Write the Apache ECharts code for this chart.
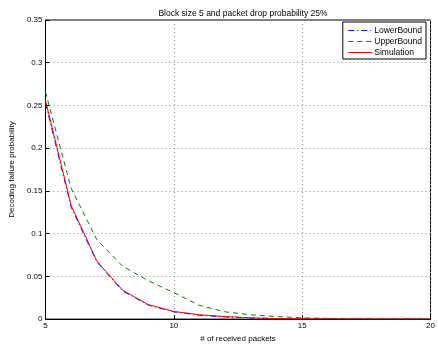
<!DOCTYPE html>
<html><head><meta charset="utf-8">
<script src="https://cdn.jsdelivr.net/npm/echarts@6/dist/echarts.min.js"></script>
<style>html,body{margin:0;padding:0;background:#fff}#c{width:438px;height:348px}</style>
</head><body><div id="c"></div>
<script>
const packets = [5,6,7,8,9,10,11,12,13,14,15,16,17,18,19,20];
const lowerBound = [0.253,0.131,0.067,0.033,0.0165,0.0085,0.0045,0.0025,0.0013,0.0006,0.0003,0.00015,0.00008,0.00004,0.00002,0.00001];
const upperBound = [0.266,0.153,0.093,0.062,0.045,0.031,0.016,0.0085,0.005,0.003,0.0015,0.0008,0.0004,0.0002,0.0001,0.00005];
const simulation = [0.256,0.133,0.068,0.034,0.017,0.009,0.005,0.003,0.0015,0.0007,0.0003,0.00015,0.00008,0.00004,0.00002,0.00001];
const xTicks = [5,10,15,20];
const yTicks = [0,0.05,0.1,0.15,0.2,0.25,0.3,0.35];

const font = 'Liberation Sans';
const chart = echarts.init(document.getElementById('c'));
const pair = a => packets.map((x,i)=>[x,a[i]]);
chart.setOption({
  animation:false,
  title:{text:'Block size 5 and packet drop probability 25%',left:238,top:4,textAlign:'center',
    textStyle:{fontFamily:font,fontSize:8.5,fontWeight:'normal',color:'#000'}},
  grid:{left:44,right:7,top:20,bottom:24,show:true,borderColor:'#000',borderWidth:1,backgroundColor:'#fff'},
  legend:{orient:'vertical',right:12,top:22,itemWidth:24,itemHeight:6,itemGap:2,padding:[4,4,2,5],
    borderColor:'#000',borderWidth:1,backgroundColor:'#fff',borderRadius:0,
    itemStyle:{opacity:0},lineStyle:{width:1},
    textStyle:{fontFamily:font,fontSize:8.5,color:'#000',padding:[0,0,0,-3]},
    data:['LowerBound','UpperBound','Simulation']},
  xAxis:{type:'value',min:5,max:20,interval:5,name:'# of received packets',nameLocation:'middle',nameGap:13,
    nameTextStyle:{fontFamily:font,fontSize:8,color:'#000'},
    axisLine:{lineStyle:{color:'#000'}},axisTick:{inside:true,length:4,lineStyle:{color:'#000'}},
    axisLabel:{fontFamily:font,fontSize:8,color:'#000',margin:3,formatter:v=>xTicks.includes(v)?String(v):''},
    splitLine:{show:true,lineStyle:{color:'#888',type:[1,3],width:1}}},
  yAxis:{type:'value',min:0,max:0.35,interval:0.05,name:'Decoding failure probability',nameLocation:'middle',nameGap:23,
    nameTextStyle:{fontFamily:font,fontSize:8,color:'#000'},
    axisLine:{show:true,lineStyle:{color:'#000'}},axisTick:{show:true,inside:true,length:4,lineStyle:{color:'#000'}},
    axisLabel:{fontFamily:font,fontSize:8,color:'#000',margin:3,formatter:v=>{const t=yTicks.find(y=>Math.abs(y-v)<1e-9);return t===undefined?'':String(t);}},
    splitLine:{show:true,lineStyle:{color:'#888',type:[1,3],width:1}}},
  series:[
    {name:'LowerBound',type:'line',symbol:'none',data:pair(lowerBound),lineStyle:{color:'#0000ff',width:1,type:[6,3,1,3]},itemStyle:{color:'#0000ff'}},
    {name:'UpperBound',type:'line',symbol:'none',data:pair(upperBound),lineStyle:{color:'#008000',width:1,type:[5,4]},itemStyle:{color:'#008000'}},
    {name:'Simulation',type:'line',symbol:'none',data:pair(simulation),lineStyle:{color:'#ff0000',width:1},itemStyle:{color:'#ff0000'}}
  ]
});
</script></body></html>
